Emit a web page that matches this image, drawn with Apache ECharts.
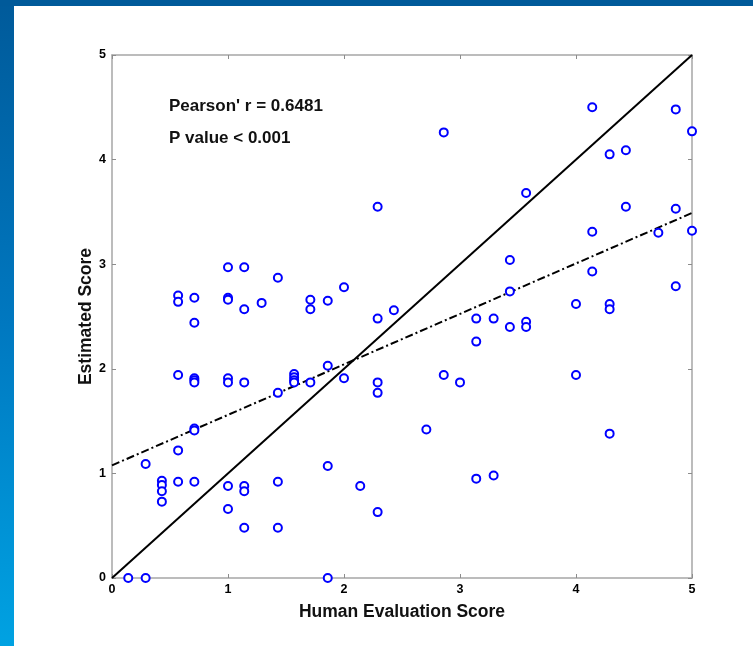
<!DOCTYPE html>
<html>
<head>
<meta charset="utf-8">
<script src="https://cdn.jsdelivr.net/npm/echarts@6/dist/echarts.min.js"></script>
<style>
  html, body { margin: 0; padding: 0; }
  #frame { position: relative; width: 753px; height: 646px; overflow: hidden;
           background: linear-gradient(to bottom, #005a9a 0%, #0078c0 50%, #00a2e2 100%); }
  #topbar { position: absolute; left: 0; top: 0; width: 753px; height: 6px; background: #005a9a; }
  #chart { position: absolute; left: 14px; top: 6px; width: 739px; height: 640px; background: #ffffff; }
</style>
</head>
<body>
<div id="frame"><div id="topbar"></div><div id="chart"></div></div>
<script>
// ---- data ----
const xTicks = [0, 1, 2, 3, 4, 5];
const yTicks = [0, 1, 2, 3, 4, 5];

const humanScore = [
  0.14,
  0.29, 0.29,
  0.43, 0.43, 0.43, 0.43,
  0.57, 0.57, 0.57, 0.57, 0.57,
  0.71, 0.71, 0.71, 0.71, 0.71, 0.71, 0.71, 0.71,
  1.0, 1.0, 1.0, 1.0, 1.0, 1.0, 1.0,
  1.14, 1.14, 1.14, 1.14, 1.14, 1.14,
  1.29,
  1.43, 1.43, 1.43, 1.43,
  1.57, 1.57, 1.57, 1.57,
  1.71, 1.71, 1.71,
  1.86, 1.86, 1.86, 1.86,
  2.0, 2.0,
  2.14,
  2.29, 2.29, 2.29, 2.29, 2.29,
  2.43,
  2.71,
  2.86, 2.86,
  3.0,
  3.14, 3.14, 3.14,
  3.29, 3.29,
  3.43, 3.43, 3.43,
  3.57, 3.57, 3.57,
  4.0, 4.0,
  4.14, 4.14, 4.14,
  4.29, 4.29, 4.29, 4.29,
  4.43, 4.43,
  4.71,
  4.86, 4.86, 4.86,
  5.0, 5.0
];
const estimatedScore = [
  0,
  0, 1.09,
  0.93, 0.89, 0.83, 0.73,
  2.70, 2.64, 1.94, 1.22, 0.92,
  2.68, 2.44, 1.91, 1.89, 1.87, 1.43, 1.41, 0.92,
  2.97, 2.68, 2.66, 1.91, 1.87, 0.88, 0.66,
  2.97, 2.57, 1.87, 0.88, 0.83, 0.48,
  2.63,
  2.87, 1.77, 0.92, 0.48,
  1.95, 1.92, 1.89, 1.87,
  2.66, 2.57, 1.87,
  2.65, 2.03, 1.07, 0,
  2.78, 1.91,
  0.88,
  3.55, 2.48, 1.87, 1.77, 0.63,
  2.56,
  1.42,
  4.26, 1.94,
  1.87,
  2.48, 2.26, 0.95,
  2.48, 0.98,
  3.04, 2.74, 2.40,
  3.68, 2.45, 2.40,
  2.62, 1.94,
  4.50, 3.31, 2.93,
  4.05, 2.62, 2.57, 1.38,
  4.09, 3.55,
  3.30,
  4.48, 3.53, 2.79,
  4.27, 3.32
];

// identity line (y = x) and regression fit line endpoints
const identityX = [0, 5];
const identityY = [0, 5];
const fitX = [0, 5];
const fitY = [1.077, 3.49];

const statLines = ["Pearson' r = 0.6481", "P value < 0.001"];
const xName = 'Human Evaluation Score';
const yName = 'Estimated Score';

// ---- chart ----
const FONT = '"Liberation Sans", Arial, sans-serif';
const points = humanScore.map((x, i) => [x, estimatedScore[i]]);
const identity = identityX.map((x, i) => [x, identityY[i]]);
const fit = fitX.map((x, i) => [x, fitY[i]]);

const chart = echarts.init(document.getElementById('chart'), null, { renderer: 'canvas' });

const axisLineStyle = { color: '#a6a6a6', width: 1.5 };
const baseAxis = {
  type: 'value', min: 0, max: 5, interval: 1,
  splitLine: { show: false },
  axisLine: { show: true, onZero: false, lineStyle: axisLineStyle },
  axisTick: { show: true, inside: true, length: 4, lineStyle: { color: '#8c8c8c', width: 1 } }
};

chart.setOption({
  animation: false,
  backgroundColor: '#ffffff',
  grid: { left: 98, right: 61, top: 49, bottom: 68, containLabel: false },
  xAxis: [
    Object.assign({}, baseAxis, {
      position: 'bottom',
      name: xName, nameLocation: 'middle', nameGap: 25, nameMoveOverlap: false,
      nameTextStyle: { fontFamily: FONT, fontWeight: 'bold', fontSize: 17.5, color: '#111' },
      axisLabel: { margin: 5, fontFamily: FONT, fontWeight: 'bold', fontSize: 12.5, color: '#000',
                   formatter: v => xTicks.includes(v) ? String(v) : '' }
    }),
    Object.assign({}, baseAxis, { position: 'top', axisLabel: { show: false } })
  ],
  yAxis: [
    Object.assign({}, baseAxis, {
      position: 'left',
      name: yName, nameLocation: 'middle', nameGap: 17, nameRotate: 90, nameMoveOverlap: false,
      nameTextStyle: { fontFamily: FONT, fontWeight: 'bold', fontSize: 17.5, color: '#111' },
      axisLabel: { margin: 6, fontFamily: FONT, fontWeight: 'bold', fontSize: 12.5, color: '#000',
                   formatter: v => yTicks.includes(v) ? String(v) : '' }
    }),
    Object.assign({}, baseAxis, { position: 'right', axisLabel: { show: false } })
  ],
  graphic: [
    { type: 'text', left: 155, top: 92,
      style: { text: statLines[0], font: 'bold 17px ' + FONT, fill: '#111' } },
    { type: 'text', left: 155, top: 124,
      style: { text: statLines[1], font: 'bold 17px ' + FONT, fill: '#111' } }
  ],
  series: [
    { type: 'line', data: identity, symbol: 'none', silent: true, z: 2,
      lineStyle: { color: '#000', width: 2, type: 'solid' } },
    { type: 'line', data: fit, symbol: 'none', silent: true, z: 2,
      lineStyle: { color: '#000', width: 2, type: [8, 3, 2, 3] } },
    { type: 'scatter', data: points, symbol: 'emptyCircle', symbolSize: 8, z: 3,
      itemStyle: { color: '#0000ff', borderColor: '#0000ff', borderWidth: 2, opacity: 1 } }
  ]
});
</script>
</body>
</html>
